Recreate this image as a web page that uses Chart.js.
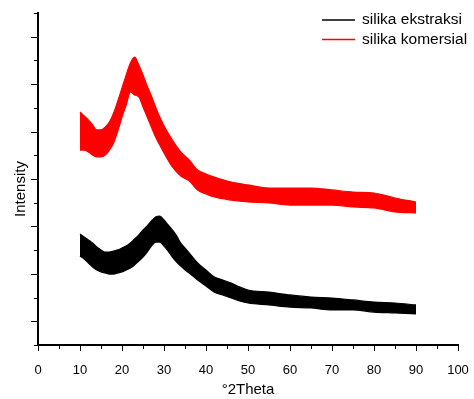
<!DOCTYPE html>
<html><head><meta charset="utf-8">
<script src="https://cdn.jsdelivr.net/npm/chart.js@4.4.1/dist/chart.umd.min.js"></script>
<style>html,body{margin:0;padding:0;background:#fff}</style>
</head><body>
<canvas id="c" width="474" height="399"></canvas>
<script>
// ---- data (intensity in arbitrary units) ----
const seriesNames = ['silika ekstraksi', 'silika komersial'];
const xTickValues = [0, 10, 20, 30, 40, 50, 60, 70, 80, 90, 100];
const xMinorTickValues = [5, 15, 25, 35, 45, 55, 65, 75, 85, 95];
const yMajorTickValues = [1, 3, 5, 7, 9, 11, 13];
const yMinorTickValues = [0, 2, 4, 6, 8, 10, 12, 14];

// silika ekstraksi (black) : noise band upper / lower edge
const xBlack = [10,11,12,13,14,15,16,17,18,19,20,21,22,23,24,25,26,27,28,29,30,31,32,33,34,35,36,38,40,42,44,46,48,50,55,60,65,70,75,80,85,90];
const blackUpper = [4.68,4.55,4.43,4.30,4.13,4.01,3.92,3.92,3.96,4.01,4.09,4.17,4.30,4.47,4.64,4.85,5.02,5.23,5.40,5.44,5.27,5.06,4.85,4.60,4.30,4.09,3.88,3.46,3.16,2.87,2.74,2.61,2.45,2.32,2.23,2.11,2.02,1.98,1.90,1.81,1.77,1.69];
const blackLower = [3.75,3.63,3.46,3.29,3.16,3.08,3.04,2.99,2.99,3.04,3.08,3.16,3.25,3.37,3.54,3.71,3.92,4.17,4.34,4.34,4.17,3.96,3.71,3.50,3.33,3.16,3.04,2.74,2.49,2.23,2.11,1.98,1.86,1.77,1.69,1.60,1.56,1.48,1.48,1.39,1.35,1.31];

// silika komersial (red) : noise band upper / lower edge
const xRed = [10,11,12,13,14,15,16,17,18,19,20,21,22,23,24,25,26,27,28,29,30,32,34,36,38,40,42,46,50,55,60,65,70,75,80,85,90];
const redUpper = [9.83,9.66,9.49,9.28,9.07,9.07,9.19,9.40,9.78,10.29,10.84,11.39,11.89,12.14,11.81,11.39,10.92,10.50,10.04,9.61,9.24,8.64,8.14,7.80,7.38,7.21,7.08,6.87,6.75,6.62,6.62,6.62,6.54,6.45,6.41,6.20,6.03];
const redLower = [8.22,8.22,8.14,8.01,7.93,7.93,8.01,8.22,8.52,9.02,9.61,10.12,10.67,10.54,10.46,10.04,9.61,9.19,8.77,8.43,8.10,7.51,7.13,6.92,6.54,6.37,6.24,6.11,6.03,5.99,5.90,5.90,5.90,5.82,5.78,5.61,5.57];

const FONT = "'Liberation Sans', Arial, sans-serif";
const toPts = (xs, ys) => xs.map((x, i) => ({x: x, y: ys[i]}));

function band(label, color, xs, up, lo) {
  return [
    {label: label, data: toPts(xs, up), borderColor: color, backgroundColor: color, borderWidth: 1.2,
     pointRadius: 0, cubicInterpolationMode: 'monotone', fill: '+1'},
    {label: label + ' (lower)', data: toPts(xs, lo), borderColor: color, backgroundColor: color, borderWidth: 1.2,
     pointRadius: 0, cubicInterpolationMode: 'monotone', fill: false}
  ];
}

const decor = {
  id: 'decor',
  afterDraw(chart) {
    const ctx = chart.ctx, xs = chart.scales.x, ys = chart.scales.y;
    ctx.save();
    ctx.strokeStyle = '#000';
    ctx.lineWidth = 1;
    xTickValues.forEach(v => { const p = Math.round(xs.getPixelForValue(v)) + 0.5;
      ctx.beginPath(); ctx.moveTo(p, ys.bottom); ctx.lineTo(p, ys.bottom + 6); ctx.stroke(); });
    xMinorTickValues.forEach(v => { const p = Math.round(xs.getPixelForValue(v)) + 0.5;
      ctx.beginPath(); ctx.moveTo(p, ys.bottom); ctx.lineTo(p, ys.bottom + 4); ctx.stroke(); });
    yMajorTickValues.forEach(v => { const p = Math.round(ys.getPixelForValue(v)) + 0.5;
      ctx.beginPath(); ctx.moveTo(xs.left - 7, p); ctx.lineTo(xs.left, p); ctx.stroke(); });
    yMinorTickValues.forEach(v => { const p = Math.round(ys.getPixelForValue(v)) + 0.5;
      ctx.beginPath(); ctx.moveTo(xs.left - 4, p); ctx.lineTo(xs.left, p); ctx.stroke(); });

    // axis titles
    ctx.fillStyle = '#000';
    ctx.font = '15px ' + FONT;
    ctx.textAlign = 'center';
    ctx.textBaseline = 'middle';
    ctx.fillText('\u00B02Theta', (xs.left + xs.right) / 2, 390);
    ctx.save();
    ctx.translate(21, 189);
    ctx.rotate(-Math.PI / 2);
    ctx.fillText('Intensity', 0, 0);
    ctx.restore();

    // legend
    const colors = ['#000000', '#ff0000'];
    ctx.textAlign = 'left';
    ctx.font = '15.5px ' + FONT;
    seriesNames.forEach((n, i) => {
      const y = 20 + i * 19.5;
      ctx.strokeStyle = colors[i];
      ctx.lineWidth = 1.3;
      ctx.beginPath(); ctx.moveTo(322, y); ctx.lineTo(355, y); ctx.stroke();
      ctx.fillStyle = '#000';
      ctx.fillText(n, 362, y);
    });
    ctx.restore();
  }
};

new Chart(document.getElementById('c'), {
  type: 'line',
  data: { datasets: [
    ...band(seriesNames[0], '#000000', xBlack, blackUpper, blackLower),
    ...band(seriesNames[1], '#ff0000', xRed, redUpper, redLower)
  ]},
  options: {
    responsive: false,
    devicePixelRatio: 1,
    animation: false,
    layout: { padding: { top: 13, right: 16, left: 0, bottom: 0 } },
    plugins: { legend: { display: false }, tooltip: { enabled: false } },
    scales: {
      x: {
        type: 'linear', min: 0, max: 100,
        afterFit: s => { s.height = 54; s.paddingRight = 0; s.paddingLeft = 0; },
        afterBuildTicks: s => { s.ticks = xTickValues.map(v => ({value: v})); },
        ticks: { autoSkip: false, maxRotation: 0, padding: 10, color: '#000', font: { family: FONT, size: 13 } },
        grid: { display: false },
        border: { display: true, color: '#000', width: 2 }
      },
      y: {
        min: 0, max: 14,
        afterFit: s => { s.width = 38; s.paddingTop = 0; s.paddingBottom = 0; },
        ticks: { display: false },
        grid: { display: false },
        border: { display: true, color: '#000', width: 2 }
      }
    }
  },
  plugins: [decor]
});
</script>
</body></html>
